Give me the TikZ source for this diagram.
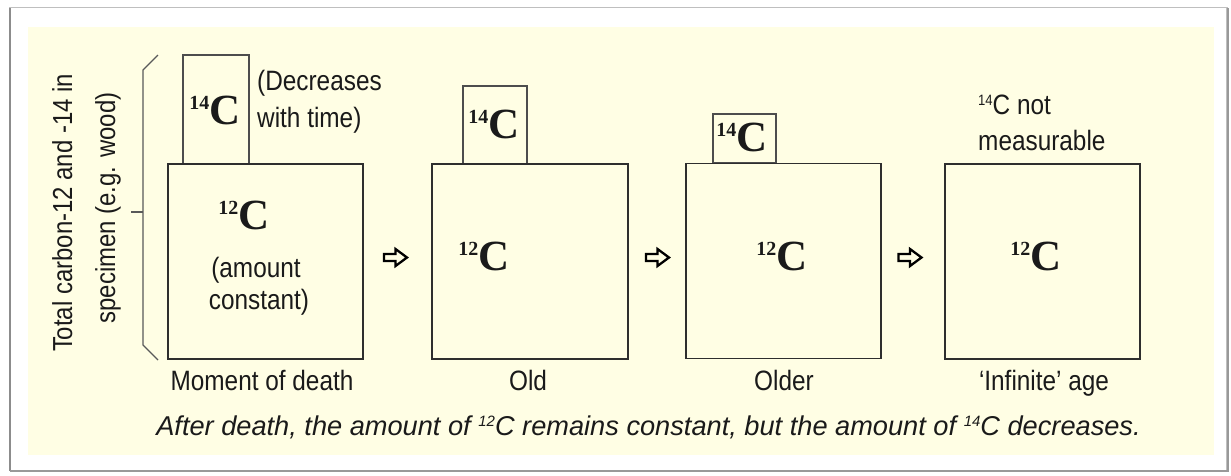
\documentclass[tikz,border=0pt]{standalone}
\usepackage{fontspec}
\setmainfont{Liberation Sans}
\newfontfamily\narrowsans[FakeStretch=0.87]{Liberation Sans}
\newfontfamily\serifb{Liberation Serif}
\definecolor{cream}{HTML}{FFFEE4}
\definecolor{linec}{HTML}{2E2E2E}
\definecolor{textc}{HTML}{1A1A1A}
\newcommand\isoC[1]{{\serifb\bfseries\fontsize{20}{20}\selectfont\raisebox{14.5pt}{#1}\fontsize{43}{43}\selectfont C}}
\newcommand\supsans[1]{{\fontsize{15}{15}\selectfont\raisebox{8.5pt}{#1}}}
\tikzset{
  bigbox/.style={draw=linec, line width=1.4pt, fill=cream, inner sep=0pt, minimum width=195pt, minimum height=195pt},
  smallbox/.style={draw=linec!85, line width=1.1pt, fill=cream, inner sep=0pt},
  lbl/.style={font=\narrowsans\fontsize{28}{37}\selectfont, text=textc, inner sep=0pt},
  iso/.style={text=textc, inner sep=0pt},
  hollow/.style={draw=black, line width=2.3pt, fill=cream, line join=miter},
  bracket/.style={draw=black!65, line width=1.2pt},
}
\begin{document}
\begin{tikzpicture}[x=1pt,y=-1pt]
\useasboundingbox (0,0) rectangle (1231,475);
\fill[white] (0,0) rectangle (1231,475);
% frame
\draw[black!25, line width=1.2pt] (10,7.5) rectangle (1227,470.5);
\draw[black!45, line width=2pt] (10,8) -- (10,471);
\draw[black!40, line width=2pt] (10,471) -- (1228,471) -- (1228,8);
\fill[cream] (28,27) rectangle (1214,455);
% bracket
\coordinate (bt) at (158,55);
\coordinate (bt2) at (143,70);
\coordinate (bb2) at (143,345);
\coordinate (bb) at (158,360);
\coordinate (bm) at (143,212);
\coordinate (bk) at (131,212);
\draw[bracket] (bt) -- (bt2) -- (bb2) -- (bb);
\draw[bracket] (bk) -- (bm);
\node[lbl, font=\narrowsans\fontsize{27.5}{30}\selectfont, rotate=90, anchor=base] (ax1) at (72,213) {Total carbon-12 and -14 in};
\node[lbl, font=\narrowsans\fontsize{27.5}{30}\selectfont, rotate=90, anchor=base] (ax2) at (115,208) {specimen (e.g. wood)};
% boxes
\node[smallbox, minimum width=66pt, minimum height=109pt] (s1) at (216,109.5) {};
\node[smallbox, minimum width=64pt, minimum height=78pt] (s2) at (495,125) {};
\node[smallbox, minimum width=63pt, minimum height=49pt] (s3) at (744.5,138.5) {};
\node[bigbox] (b1) at (265.5,261.5) {};
\node[bigbox, minimum width=196pt] (b2) at (530,261.5) {};
\node[bigbox] (b3) at (783.5,261) {};
\node[bigbox] (b4) at (1042.5,261.5) {};
% isotope labels
\node[iso] (c14a) at (215,110) {\isoC{14}};
\node[iso] (c14b) at (494,124) {\isoC{14}};
\node[iso] (c14c) at (742,137) {\isoC{14}};
\node[iso] (c12a) at (244,215) {\isoC{12}};
\node[iso] (c12b) at (484,256) {\isoC{12}};
\node[iso] (c12c) at (782,256) {\isoC{12}};
\node[iso] (c12d) at (1036,256) {\isoC{12}};
% side texts
\node[lbl, anchor=base west] (d1) at (257,90) {(Decreases};
\node[lbl, anchor=base west] (d2) at (257,127) {with time)};
\node[lbl, anchor=base] (am1) at (256,277) {(amount};
\node[lbl, anchor=base] (am2) at (259,309) {constant)};
\node[lbl, anchor=base west] (nm1) at (978,114) {\supsans{14}C not};
\node[lbl, anchor=base west] (nm2) at (978,150) {measurable};
% stage labels
\node[lbl, anchor=base] (t1) at (262,390) {Moment of death};
\node[lbl, anchor=base] (t2) at (528,390) {Old};
\node[lbl, anchor=base] (t3) at (784,390) {Older};
\node[lbl, anchor=base] (t4) at (1044,390) {‘Infinite’ age};
% hollow arrows
\foreach \cx/\nm in {395.5/a1, 657.5/a2, 910/a3}{
  \draw[hollow, shift={(\cx,257.5)}] (-11.5,-3.5) -- (0,-3.5) -- (0,-8.5) -- (11.5,0) -- (0,8.5) -- (0,3.5) -- (-11.5,3.5) -- cycle;
}
% caption
\node[text=textc, inner sep=0pt, anchor=base, font=\itshape\fontsize{27.2}{30}\selectfont] (cap) at (648.5,435) {After death, the amount of \supsans{12}C remains constant, but the amount of \supsans{14}C decreases.};
\end{tikzpicture}
\end{document}
